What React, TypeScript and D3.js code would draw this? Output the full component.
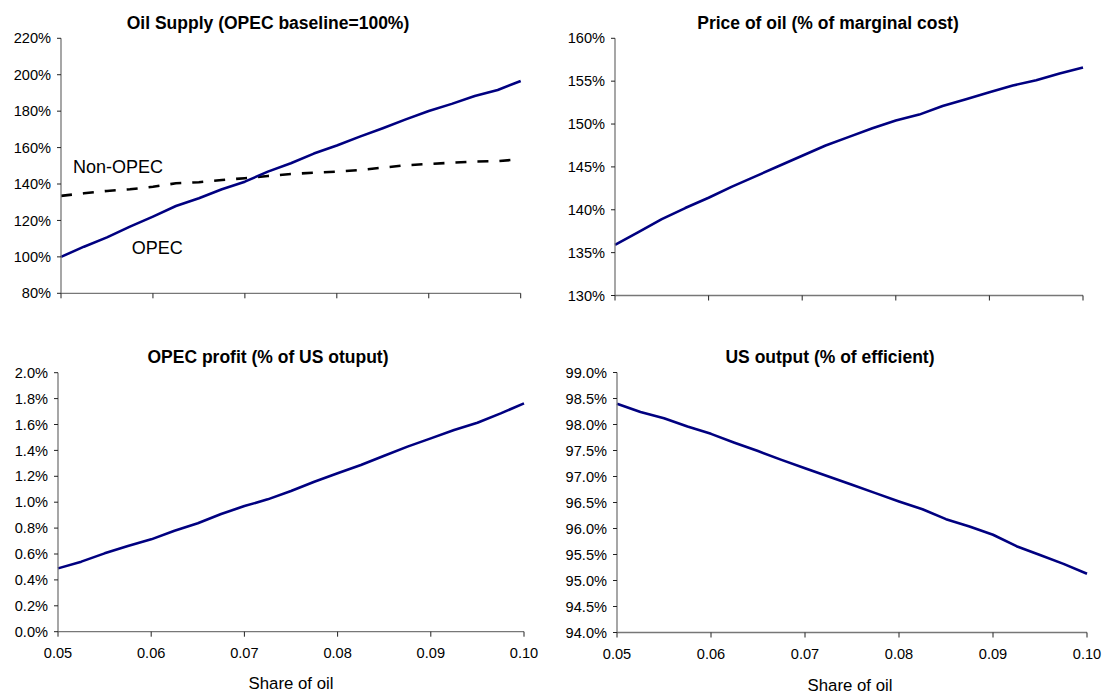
import React from "react";
import * as d3 from "d3";

const shareOfOil = [0.05, 0.0525, 0.055, 0.0575, 0.06, 0.0625, 0.065, 0.0675, 0.07, 0.0725, 0.075, 0.0775, 0.08, 0.0825, 0.085, 0.0875, 0.09, 0.0925, 0.095, 0.0975, 0.1];
const xTicks = [0.05, 0.06, 0.07, 0.08, 0.09, 0.1];

const opecSupply = [100, 105.6, 110.7, 116.6, 122.1, 127.9, 132.2, 137.1, 141.3, 146.8, 151.4, 156.7, 161.1, 166, 170.6, 175.5, 180.1, 184, 188.3, 191.6, 196.6];
const nonOpecSupply = [133.5, 134.9, 136.2, 137.1, 138.5, 140.4, 141, 142.2, 143.2, 144.4, 145.5, 146.2, 146.8, 147.7, 149, 150.3, 151, 151.7, 152.3, 152.6, 153.6];
const priceOfOil = [135.9, 137.4, 138.9, 140.2, 141.4, 142.7, 143.9, 145.1, 146.3, 147.5, 148.5, 149.5, 150.4, 151.1, 152.1, 152.9, 153.7, 154.5, 155.1, 155.9, 156.6];
const opecProfit = [0.489, 0.541, 0.605, 0.662, 0.713, 0.78, 0.837, 0.909, 0.97, 1.022, 1.086, 1.158, 1.223, 1.287, 1.359, 1.429, 1.493, 1.557, 1.614, 1.686, 1.763];
const usOutput = [98.4, 98.24, 98.12, 97.96, 97.82, 97.65, 97.49, 97.32, 97.16, 97.0, 96.84, 96.68, 96.52, 96.37, 96.18, 96.04, 95.88, 95.66, 95.49, 95.32, 95.13];

const supplyTicks = [80, 100, 120, 140, 160, 180, 200, 220];
const priceTicks = [130, 135, 140, 145, 150, 155, 160];
const profitTicks = [0, 0.2, 0.4, 0.6, 0.8, 1.0, 1.2, 1.4, 1.6, 1.8, 2.0];
const outputTicks = [94, 94.5, 95, 95.5, 96, 96.5, 97, 97.5, 98, 98.5, 99];

const FONT = "'Liberation Sans', Arial, sans-serif";
const NAVY = "#000080";

type Series = { values: number[]; color: string; dash?: string };

function Panel(props: {
  x0: number; x1: number; y0: number; y1: number;
  yTicks: number[]; fmt: (v: number) => string;
  series: Series[]; title: string; titleX: number; titleY: number;
  showXLabels: boolean; xTitleX?: number; xTitleY?: number;
  children?: React.ReactNode;
}) {
  const { x0, x1, y0, y1, yTicks, fmt, series, title, titleX, titleY, showXLabels } = props;
  const x = d3.scaleLinear().domain([0.05, 0.1]).range([x0, x1]);
  const y = d3.scaleLinear().domain([yTicks[0], yTicks[yTicks.length - 1]]).range([y1, y0]);
  const line = d3.line<number>().x((_, i) => x(shareOfOil[i])).y((d) => y(d));
  return (
    <g>
      <text x={titleX} y={titleY} textAnchor="middle" fontFamily={FONT} fontWeight="bold" fontSize={17.5} fill="#000">{title}</text>
      {series.map((s, i) => (
        <path key={i} d={line(s.values) || ""} fill="none" stroke={s.color} strokeWidth={2.6} strokeDasharray={s.dash} strokeLinejoin="round" />
      ))}
      <line x1={x0} x2={x0} y1={y0} y2={y1} stroke="#777" strokeWidth={1.3} />
      <line x1={x0} x2={x1} y1={y1} y2={y1} stroke="#777" strokeWidth={1.3} />
      {yTicks.map((t) => (
        <g key={t}>
          <line x1={x0 - 4} x2={x0} y1={y(t)} y2={y(t)} stroke="#222" strokeWidth={1} />
          <text x={x0 - 10} y={y(t)} dy="0.35em" textAnchor="end" fontFamily={FONT} fontSize={14.6} fill="#000">{fmt(t)}</text>
        </g>
      ))}
      {xTicks.map((t) => (
        <g key={t}>
          <line x1={x(t)} x2={x(t)} y1={y1} y2={y1 + 5} stroke="#222" strokeWidth={1} />
          {showXLabels && (
            <text x={x(t)} y={y1 + 21} dy="0.35em" textAnchor="middle" fontFamily={FONT} fontSize={14.6} fill="#000">{t.toFixed(2)}</text>
          )}
        </g>
      ))}
      {showXLabels && props.xTitleX !== undefined && (
        <text x={props.xTitleX} y={props.xTitleY} textAnchor="middle" fontFamily={FONT} fontSize={16.8} fill="#000">Share of oil</text>
      )}
      {props.children}
    </g>
  );
}

export default function App() {
  return (
    <div style={{ position: "absolute", left: 0, top: 0 }}>
      <svg width={1117} height={697} style={{ display: "block", background: "#fff" }}>
        <Panel x0={61} x1={520.7} y0={38.3} y1={293.3} yTicks={supplyTicks} fmt={(v) => `${v}%`}
          series={[{ values: nonOpecSupply, color: "#000", dash: "11,11" }, { values: opecSupply, color: NAVY }]}
          title="Oil Supply (OPEC baseline=100%)" titleX={268} titleY={29} showXLabels={false}>
          <text x={73} y={172.7} fontFamily={FONT} fontSize={18} fill="#000">Non-OPEC</text>
          <text x={131.7} y={254} fontFamily={FONT} fontSize={18} fill="#000">OPEC</text>
        </Panel>
        <Panel x0={615} x1={1083} y0={38.3} y1={295.5} yTicks={priceTicks} fmt={(v) => `${v}%`}
          series={[{ values: priceOfOil, color: NAVY }]}
          title="Price of oil (% of marginal cost)" titleX={828} titleY={29} showXLabels={false} />
        <Panel x0={58} x1={524} y0={372.7} y1={631.7} yTicks={profitTicks} fmt={(v) => `${v.toFixed(1)}%`}
          series={[{ values: opecProfit, color: NAVY }]}
          title="OPEC profit (% of US otuput)" titleX={268} titleY={363} showXLabels={true} xTitleX={291} xTitleY={689} />
        <Panel x0={617} x1={1087} y0={372.5} y1={632.5} yTicks={outputTicks} fmt={(v) => `${v.toFixed(1)}%`}
          series={[{ values: usOutput, color: NAVY }]}
          title="US output (% of efficient)" titleX={830} titleY={363} showXLabels={true} xTitleX={850} xTitleY={691} />
      </svg>
    </div>
  );
}
